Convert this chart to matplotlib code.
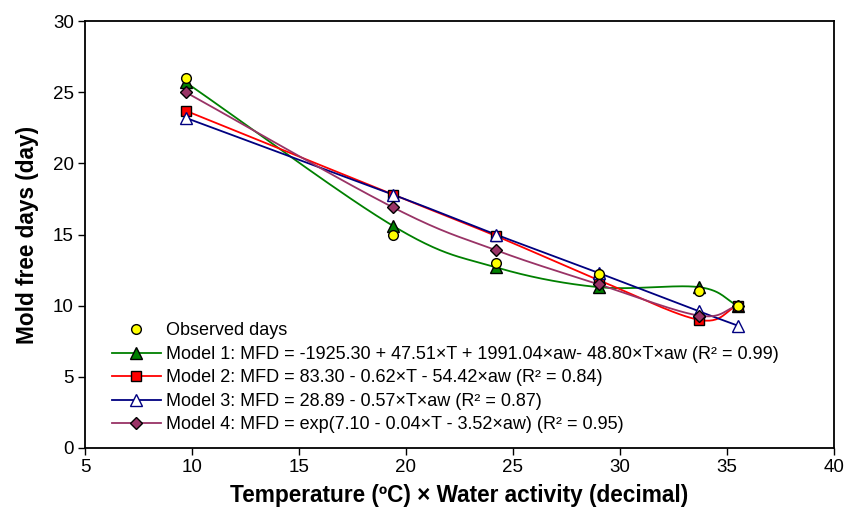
import numpy as np
import matplotlib
matplotlib.use("Agg")
import matplotlib.pyplot as plt

plt.rcParams['font.family'] = ['Liberation Sans', 'DejaVu Sans']

x_vals = [9.7, 19.4, 24.2, 29.0, 33.7, 35.5]
observed = [26.0, 15.0, 13.0, 12.2, 11.0, 10.0]
model1 = [25.7, 15.6, 12.7, 11.3, 11.3, 10.0]
model2 = [23.7, 17.8, 14.9, 11.8, 9.0, 10.0]
model3 = [23.2, 17.8, 15.0, 12.3, 9.6, 8.6]
model4 = [25.0, 16.9, 13.9, 11.5, 9.3, 10.0]

labels = [
    "Observed days",
    "Model 1: MFD = -1925.30 + 47.51×T + 1991.04×aw- 48.80×T×aw (R² = 0.99)",
    "Model 2: MFD = 83.30 - 0.62×T - 54.42×aw (R² = 0.84)",
    "Model 3: MFD = 28.89 - 0.57×T×aw (R² = 0.87)",
    "Model 4: MFD = exp(7.10 - 0.04×T - 3.52×aw) (R² = 0.95)",
]


def smooth(xs, ys, n=30):
    # Catmull-Rom style smoothing (like spreadsheet "smoothed line")
    xs = np.asarray(xs, float)
    ys = np.asarray(ys, float)
    px = np.concatenate([[2 * xs[0] - xs[1]], xs, [2 * xs[-1] - xs[-2]]])
    py = np.concatenate([[2 * ys[0] - ys[1]], ys, [2 * ys[-1] - ys[-2]]])
    ox, oy = [], []
    t = np.linspace(0, 1, n)
    for i in range(1, len(px) - 2):
        for arr, out in ((px, ox), (py, oy)):
            p0, p1, p2, p3 = arr[i - 1], arr[i], arr[i + 1], arr[i + 2]
            m1 = (p2 - p0) / 6.0
            m2 = (p3 - p1) / 6.0
            b0 = p1
            b1 = p1 + m1
            b2 = p2 - m2
            b3 = p2
            seg = ((1 - t) ** 3 * b0 + 3 * (1 - t) ** 2 * t * b1
                   + 3 * (1 - t) * t ** 2 * b2 + t ** 3 * b3)
            out.extend(seg if i == 1 else seg[1:])
    return np.array(ox), np.array(oy)


fig = plt.figure(figsize=(8.45, 5.13), dpi=100)
ax = fig.add_axes([85 / 845, 65 / 513, 749 / 845, 427 / 513])

series = [
    (model1, '#008000', '#008000', '^', 8),
    (model2, '#FF0000', '#FF0000', 's', 7),
    (model3, '#000080', 'white', '^', 8),
    (model4, '#993366', '#993366', 'D', 6),
]

handles = []
ax.plot(x_vals, observed, linestyle='none', marker='o', markersize=7,
        markerfacecolor='#FFFF00', markeredgecolor='black',
        markeredgewidth=1.0, zorder=5)
for ys, lc, fc, mk, ms in series:
    sx, sy = smooth(x_vals, ys)
    lw = 1.3
    ax.plot(sx, sy, color=lc, linewidth=lw, zorder=3)
    medge = '#000080' if fc == 'white' else 'black'
    ax.plot(x_vals, ys, linestyle='none', marker=mk, markersize=ms,
            markerfacecolor=fc, markeredgecolor=medge, markeredgewidth=1.0,
            zorder=4)
    h = plt.Line2D([], [], color=lc, linewidth=lw, marker=mk, markersize=ms,
                   markerfacecolor=fc, markeredgecolor=medge,
                   markeredgewidth=1.0)
    handles.append(h)

leg_h = [plt.Line2D([], [], linestyle='none', marker='o', markersize=7,
                    markerfacecolor='#FFFF00', markeredgecolor='black')] + handles
ax.legend(leg_h, labels, loc='lower left', bbox_to_anchor=(0.036, 0.034),
          frameon=False, fontsize=13, handlelength=2.7, handletextpad=0.3,
          labelspacing=0.36, borderaxespad=0.0, borderpad=0.0)

ax.set_xlim(5, 40)
ax.set_ylim(0, 30)
ax.set_xticks(np.arange(5, 41, 5))
ax.set_yticks(np.arange(0, 31, 5))
ax.tick_params(direction='out', length=5, width=1, labelsize=13.5, pad=3)
for sp in ax.spines.values():
    sp.set_linewidth(1.3)
ax.set_xlabel("Temperature (ºC) × Water activity (decimal)", fontsize=16.3,
              fontweight='bold', labelpad=6)
ax.set_ylabel("Mold free days (day)", fontsize=16.3, fontweight='bold',
              labelpad=10)

fig.savefig("out.png", dpi=100)
